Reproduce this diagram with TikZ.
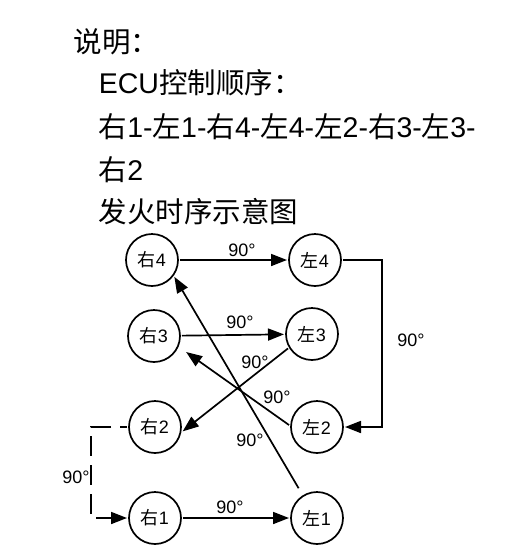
\documentclass[tikz,border=0pt]{standalone}
\usepackage{fontspec}
\setmainfont{Liberation Sans}
\newfontfamily\cjk{Noto Sans CJK SC}
\usetikzlibrary{arrows.meta}
\newcommand{\you}{{\cjk 右}}
\newcommand{\zuo}{{\cjk 左}}

\begin{document}
\begin{tikzpicture}[x=1pt, y=-1pt, line width=1.7pt,
    >={Triangle[length=16pt, width=12pt]},
    cyl/.style={circle, draw, minimum size=52pt, inner sep=0pt, outer sep=2pt, font=\fontsize{18}{18}\selectfont},
    deg/.style={font=\fontsize{18}{18}\selectfont, inner sep=0pt},
    title/.style={anchor=base west, inner sep=0pt, font=\fontsize{28.5}{28.5}\selectfont}]
  \useasboundingbox (0,0) rectangle (518,558);
  % notes
  \node[title] (note)  at (73,52)  {{\cjk 说明：}};
  \node[title] (ecu)   at (98,93)  {ECU{\cjk 控制顺序：}};
  \node[title] (seq)   at (98,137) {\you1-\zuo1-\you4-\zuo4-\zuo2-\you3-\zuo3-};
  \node[title] (seqb)  at (98,180) {\you2};
  \node[title] (chart) at (98,222) {{\cjk 发火时序示意图}};
  % cylinders
  \node[cyl] (r4) at (152,260) {\you4};
  \node[cyl] (l4) at (315,260) {\zuo4};
  \node[cyl] (r3) at (154,336) {\you3};
  \node[cyl] (l3) at (312,334) {\zuo3};
  \node[cyl] (r2) at (155,427) {\you2};
  \node[cyl] (l2) at (317,427) {\zuo2};
  \node[cyl] (r1) at (155,518) {\you1};
  \node[cyl] (l1) at (317,518) {\zuo1};
  \coordinate (turnR) at (382,260);
  \coordinate (turnL) at (91,427);
  % firing order
  \draw[->] (r1) -- (l1);
  \draw[->, shorten <=7pt] (l1.122) -- (r4.-37);
  \draw[->] (r4) -- (l4);
  \draw[->] (l4) -- (turnR) |- (l2);
  \draw[->, shorten >=8pt] (l2.176) -- (r3.-24);
  \draw[->] (r3) -- (l3);
  \draw[->] (l3.211) -- (r2.-9);
  \draw[->, dash pattern=on 20pt off 9pt, dash phase=13pt] (r2) -- (turnL) |- (r1);
  % angles
  \node[deg] (d1) at (230,507) {90°};
  \node[deg] (d2) at (250,440) {90°};
  \node[deg] (d3) at (242,250) {90°};
  \node[deg] (d4) at (411,340) {90°};
  \node[deg] (d5) at (277,397) {90°};
  \node[deg] (d6) at (240,322) {90°};
  \node[deg] (d7) at (255,362) {90°};
  \node[deg] (d8) at (76,477)  {90°};
\end{tikzpicture}
\end{document}
